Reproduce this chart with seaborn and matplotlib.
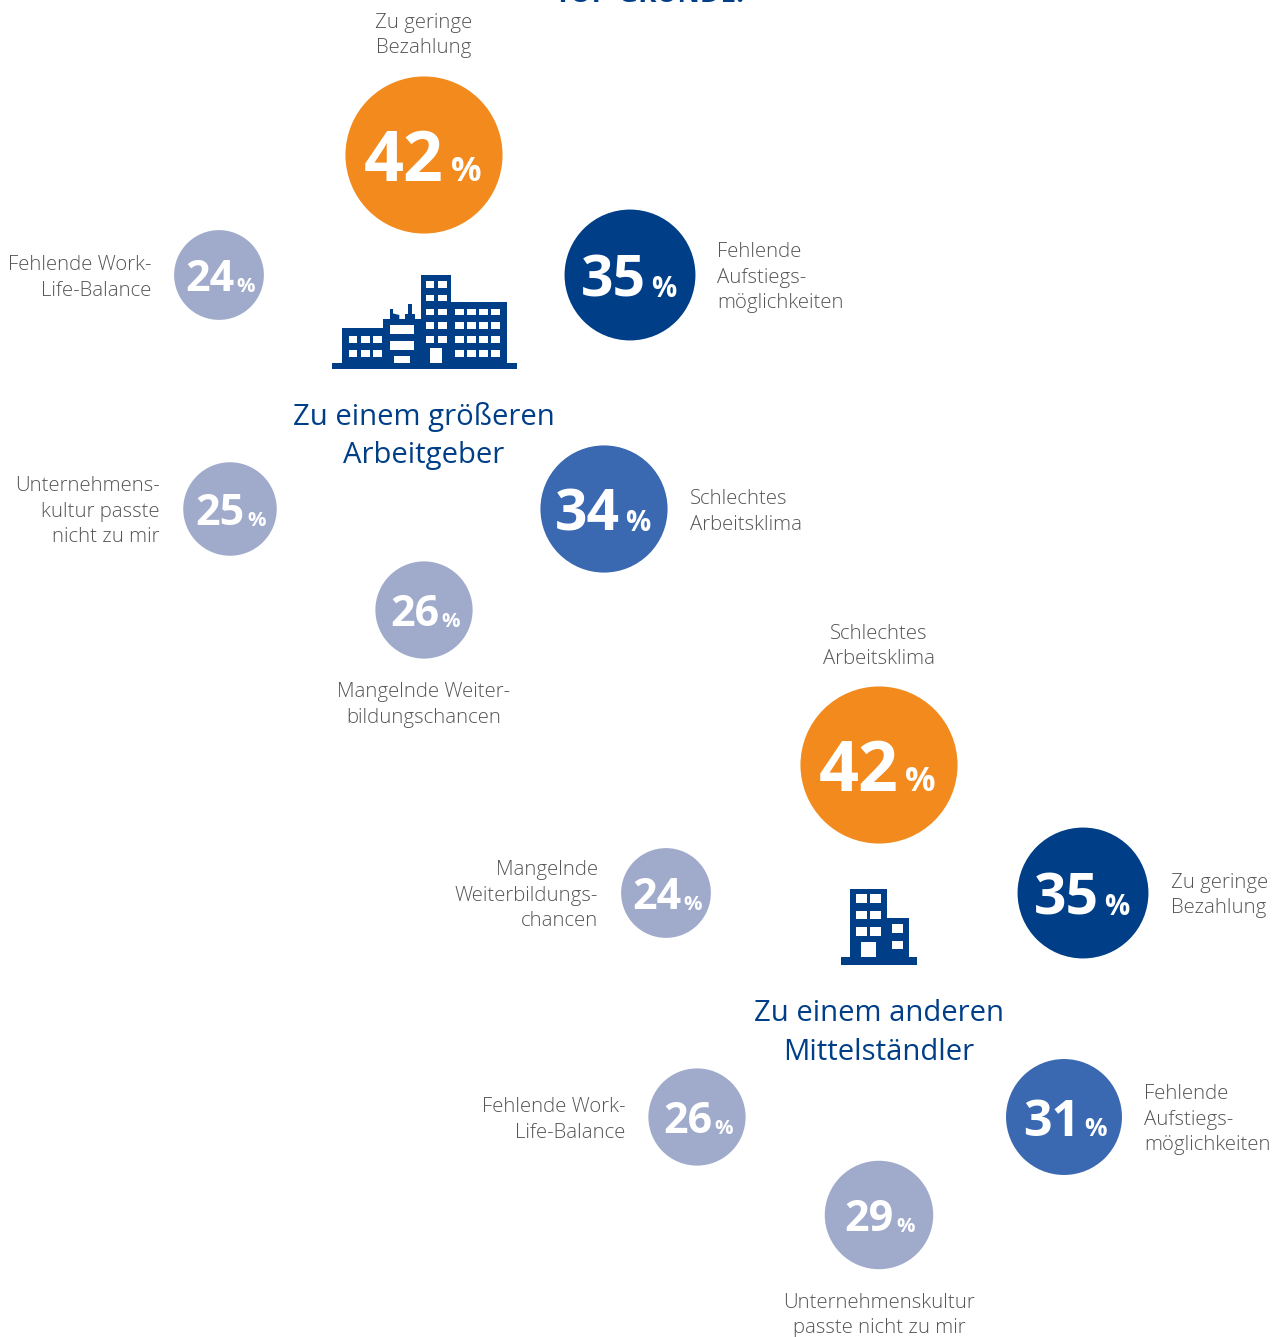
import matplotlib
matplotlib.use("Agg")
import matplotlib.pyplot as plt
from matplotlib.patches import Rectangle, Polygon
import pandas as pd
import seaborn as sns

# Survey results: reasons for changing employer, per destination
large_heading = ["Zu einem größeren", "Arbeitgeber"]
large_reasons = [
    ["Zu geringe", "Bezahlung"],
    ["Fehlende", "Aufstiegs-", "möglichkeiten"],
    ["Schlechtes", "Arbeitsklima"],
    ["Mangelnde Weiter-", "bildungschancen"],
    ["Unternehmens-", "kultur passte", "nicht zu mir"],
    ["Fehlende Work-", "Life-Balance"],
]
large_values = [42, 35, 34, 26, 25, 24]

mid_heading = ["Zu einem anderen", "Mittelständler"]
mid_reasons = [
    ["Schlechtes", "Arbeitsklima"],
    ["Zu geringe", "Bezahlung"],
    ["Fehlende", "Aufstiegs-", "möglichkeiten"],
    ["Unternehmenskultur", "passte nicht zu mir"],
    ["Fehlende Work-", "Life-Balance"],
    ["Mangelnde", "Weiterbildungs-", "chancen"],
]
mid_values = [42, 35, 31, 29, 26, 24]

# Layout in pixel coordinates of the canvas
large_xy = [(424, 155), (630, 275), (604, 509), (424, 610), (230, 509), (219, 275)]
mid_xy = [(879, 765), (1083, 893), (1064, 1117), (879, 1215), (697, 1117), (666, 893)]
large_text = [(424, 28, "center"), (717, 257, "left"), (690, 504, "left"),
              (424, 697, "center"), (160, 491, "right"), (151, 270, "right")]
mid_text = [(879, 639, "center"), (1171, 888, "left"), (1144, 1099, "left"),
            (879, 1308, "center"), (625, 1112, "right"), (598, 875, "right")]

W, H, DPI = 1283, 1337, 100
PX = 72 / DPI
NAVY, BLUE, PALE, ORANGE = "#003F88", "#3A69B2", "#A0ABCC", "#F28A1E"
LABEL = "#555555"
FONT = "Open Sans"
DIAMETER_PER_POINT = 3.74


def tone(rank):
    return ["top", "second", "third"][rank] if rank < 3 else "rest"


def figure_style(value):
    """Digit size, percent size, digit anchor and percent anchor, all in px."""
    if value >= 40:
        return 70, 34, 20, 26.5
    if value >= 34:
        return 57, 28, 16, 21
    if value >= 30:
        return 50, 25, 16, 20.5
    return 43, 20.5, 15, 17


sns.set_theme(style="white")
plt.rcParams["font.family"] = [FONT, "DejaVu Sans"]

fig = plt.figure(figsize=(W / DPI, H / DPI), dpi=DPI)
ax = fig.add_axes([0, 0, 1, 1])

rows = []
for values, xy in ((large_values, large_xy), (mid_values, mid_xy)):
    for rank, (v, (x, y)) in enumerate(zip(values, xy)):
        rows.append({"x": x, "y": y, "pct": v, "tone": tone(rank)})
df = pd.DataFrame(rows)

sns.scatterplot(
    data=df, x="x", y="y", hue="tone", size="pct", ax=ax, legend=False, linewidth=0,
    palette={"top": ORANGE, "second": NAVY, "third": BLUE, "rest": PALE},
    sizes={v: (v * DIAMETER_PER_POINT * PX) ** 2 for v in df["pct"].unique()},
)
ax.set_xlim(0, W)
ax.set_ylim(H, 0)
ax.axis("off")

# White figures inside the bubbles
for _, r in df.iterrows():
    digit_px, pct_px, digit_dx, pct_dx = figure_style(r["pct"])
    base = r["y"] + 1 + 0.357 * digit_px
    ax.text(r["x"] + digit_dx, base, str(r["pct"]), ha="right", va="baseline",
            color="white", fontweight="bold", fontsize=digit_px * PX)
    ax.text(r["x"] + pct_dx, base + 0.5, "%", ha="left", va="baseline",
            color="white", fontweight="bold", fontsize=pct_px * PX)


def stacked(lines, x, y, ha, size, color, step, **kw):
    for i, line in enumerate(lines):
        ax.text(x, y + i * step, line, ha=ha, va="baseline", color=color,
                fontsize=size * PX, **kw)


for reasons, places in ((large_reasons, large_text), (mid_reasons, mid_text)):
    for lines, (x, y, ha) in zip(reasons, places):
        stacked(lines, x, y, ha, 20.4, LABEL, 25.5, fontweight="light")

stacked(large_heading, 424, 425, "center", 29.3, NAVY, 38.5)
stacked(mid_heading, 879, 1021, "center", 29.3, NAVY, 38.5)
ax.text(650, 2, "TOP-GRÜNDE:", ha="center", va="baseline", color=NAVY,
        fontweight="bold", fontsize=27.8 * PX)


def icon(solids, holes, ox, oy, unit=1 / 3):
    for color, boxes in ((NAVY, solids), ("white", holes)):
        for x0, y0, x1, y1 in boxes:
            ax.add_patch(Rectangle((ox + x0 * unit, oy + y0 * unit),
                                   (x1 - x0) * unit, (y1 - y0) * unit,
                                   facecolor=color, edgecolor="none", zorder=3))


def grid(xs, ys):
    return [(a, c, b, d) for a, b in xs for c, d in ys]


# Office complex above the first heading
factory_solid = [(36, 308, 590, 328), (65, 205, 190, 310), (190, 178, 303, 310),
                 (303, 45, 393, 310), (393, 125, 560, 310),
                 (210, 148, 218, 180), (265, 132, 275, 180), (255, 162, 285, 180)]
factory_holes = (
    grid([(86, 112), (123, 149), (159, 185)], [(228, 248), (269, 290)])
    + [(210, 194, 283, 222), (210, 243, 283, 270), (223, 289, 270, 308)]
    + grid([(317, 343), (353, 380)],
           [(63, 83), (104, 124), (146, 166), (187, 207), (228, 248)])
    + [(331, 265, 366, 308)]
    + grid([(404, 431), (441, 467), (477, 504), (514, 541)],
           [(146, 166), (187, 207), (228, 248), (269, 290)])
)
icon(factory_solid, factory_holes, 320, 260)
ax.add_patch(Polygon([(320 + 218 / 3, 260 + 160 / 3), (320 + 238 / 3, 260 + 165 / 3),
                      (320 + 238 / 3, 260 + 180 / 3), (320 + 218 / 3, 260 + 180 / 3)],
                     facecolor=NAVY, edgecolor="none", zorder=3))

# Smaller office building above the second heading
office_solid = [(33, 232, 262, 255), (60, 28, 170, 234), (170, 113, 236, 234)]
office_holes = (
    grid([(77, 110), (121, 154)], [(42, 68), (92, 118), (142, 168)])
    + grid([(186, 219)], [(132, 158), (182, 208)])
    + [(94, 187, 137, 232)]
)
icon(office_solid, office_holes, 830, 880)

fig.savefig("out.png", dpi=DPI, facecolor="white")
